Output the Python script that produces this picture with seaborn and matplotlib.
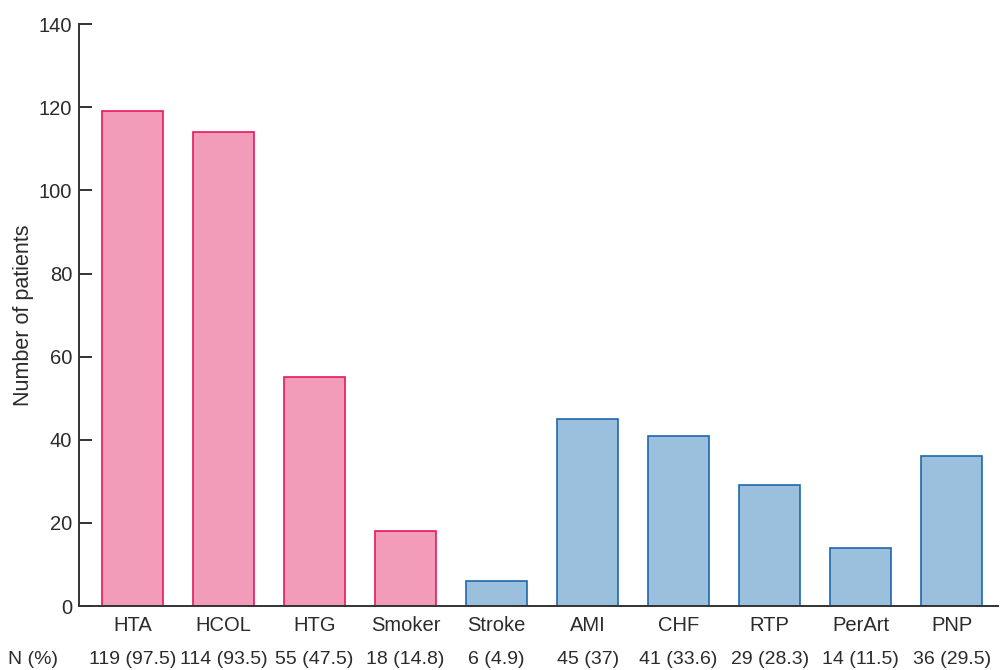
import matplotlib
matplotlib.use("Agg")
import matplotlib.pyplot as plt
import matplotlib.transforms as mtransforms
import seaborn as sns
import pandas as pd

categories = ['HTA', 'HCOL', 'HTG', 'Smoker', 'Stroke', 'AMI', 'CHF', 'RTP', 'PerArt', 'PNP']
patients = [119, 114, 55, 18, 6, 45, 41, 29, 14, 36]
npct_labels = ['119 (97.5)', '114 (93.5)', '55 (47.5)', '18 (14.8)', '6 (4.9)',
               '45 (37)', '41 (33.6)', '29 (28.3)', '14 (11.5)', '36 (29.5)']
group = ['risk', 'risk', 'risk', 'risk', 'event', 'event', 'event', 'event', 'event', 'event']

fill = {'risk': '#F29CB9', 'event': '#9BC0DE'}
edge = {'risk': '#E5185F', 'event': '#1E68AE'}

sns.set_style('white')
plt.rcParams['font.family'] = ['Liberation Sans', 'DejaVu Sans']
txt = '#2b2b2b'

df = pd.DataFrame({'cat': categories, 'n': patients, 'group': group})

fig = plt.figure(figsize=(10, 6.7), dpi=100)
ax = fig.add_axes([0.079, 0.0955, 0.919, 0.8685])

sns.barplot(data=df, x='cat', y='n', hue='group', palette=fill, dodge=False,
            width=0.67, legend=False, ax=ax, saturation=1)

# outline colour per group
for p in ax.patches:
    if p.get_height() == 0:
        continue
    i = int(round(p.get_x() + p.get_width() / 2))
    p.set_edgecolor(edge[group[i]])
    p.set_linewidth(1.2)

ax.set_ylim(0, 140)
ax.set_xlim(-0.59, 9.51)
ax.set_yticks(range(0, 141, 20))
ax.set_xlabel('')
ax.set_ylabel('Number of patients', fontsize=15.5, color=txt, labelpad=3)

for s in ['top', 'right']:
    ax.spines[s].set_visible(False)
for s in ['left', 'bottom']:
    ax.spines[s].set_color('#333333')
    ax.spines[s].set_linewidth(1.4)

ax.tick_params(axis='y', direction='in', length=9, width=1.4, color='#333333',
               labelsize=14.5, labelcolor=txt, pad=5, left=True)
ax.tick_params(axis='x', length=0, labelsize=14.5, labelcolor=txt, pad=7)

trans = mtransforms.blended_transform_factory(ax.transData, fig.transFigure)
for i, lab in enumerate(npct_labels):
    ax.text(i, 1 - 659 / 670, lab, transform=trans, ha='center', va='center',
            fontsize=14, color=txt)
fig.text(33 / 1000, 1 - 659 / 670, 'N (%)', ha='center', va='center', fontsize=14, color=txt)

fig.savefig('out.png', dpi=100)
